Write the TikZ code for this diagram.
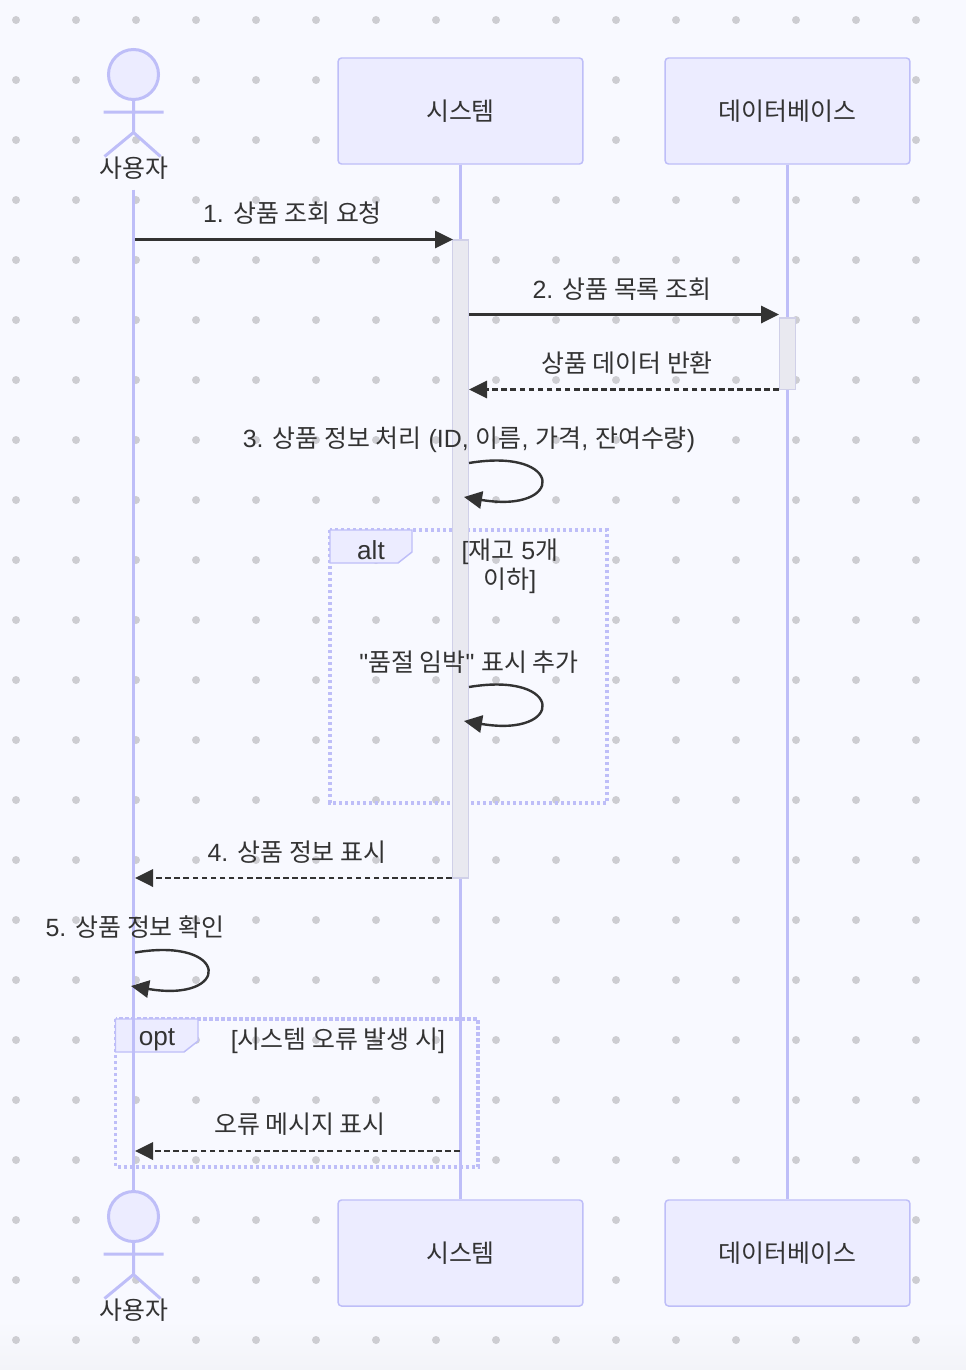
\documentclass[tikz,border=0pt]{standalone}
\usepackage{fontspec}
\setmainfont{Liberation Sans}
\newfontfamily\krfont{Noto Sans CJK KR}
\newfontfamily\rawfont{Liberation Sans}
\newcommand{\kr}[1]{{\krfont #1}}
\usetikzlibrary{arrows.meta}
\definecolor{bgpage}{HTML}{F8F9FF}
\definecolor{bgfoot}{HTML}{F3F4F8}
\definecolor{griddot}{HTML}{CDCDD2}
\definecolor{lavline}{HTML}{BEBEF8}
\definecolor{lavfill}{HTML}{ECECFF}
\definecolor{actfill}{HTML}{E9E9F0}
\definecolor{actline}{HTML}{D0D0E8}
\definecolor{ink}{HTML}{333333}
\begin{document}
\begin{tikzpicture}[x=.75pt,y=-.75pt,
    every node/.style={font=\fontsize{18.7}{22}\selectfont,text=ink,inner sep=0pt},
    lifeline/.style={draw=lavline,line width=2.5pt},
    partbox/.style={draw=lavline,fill=lavfill,line width=1.1pt,rounded corners=2.5pt,
      minimum width=183.5pt,minimum height=79.5pt},
    actorhead/.style={circle,draw=lavline,fill=lavfill,line width=2.25pt,minimum size=37.5pt},
    actorline/.style={draw=lavline,line width=2.25pt},
    activation/.style={draw=actline,fill=actfill,line width=1.1pt},
    frameline/.style={draw=lavline,line width=2.6pt,dash pattern=on 2.4pt off 2.1pt},
    framelabel/.style={draw=lavline,fill=lavfill,line width=1.1pt},
    msgsolid/.style={draw=ink,line width=1.8pt,-{Triangle[length=13.5pt,width=13pt]}},
    msgdash/.style={msgsolid,dash pattern=on 4.2pt off 2.6pt},
    latinlabel/.style={font=\fontsize{19.6}{22}\selectfont}]
  \useasboundingbox (0,0) rectangle (966,1370);
  % page and its dot grid
  \fill[bgpage] (0,0) rectangle (966,1370);
  \shade[top color=bgpage,bottom color=bgfoot] (0,1320) rectangle (966,1370);
  \foreach \i in {0,...,15}
    \foreach \j in {0,...,22}
      \fill[griddot] (16+60*\i,20+60*\j) circle (3pt);

  % frames go under the lifelines
  \draw[frameline] (330,530) rectangle (607,803);
  \draw[framelabel] (330,530)--(412,530)--(412,552)--(398,563)--(330,563)--cycle;
  \draw[frameline] (115.5,1019) rectangle (478,1167);
  \draw[framelabel] (115.5,1019)--(198,1019)--(198,1041)--(184,1052)--(115.5,1052)--cycle;

  % participants
  \node[partbox] (SYSt) at (460.5,111) {\kr{시스템}};
  \node[partbox] (DBt) at (787.5,111) {\kr{데이터베이스}};
  \node[partbox] (SYSb) at (460.5,1253) {\kr{시스템}};
  \node[partbox] (DBb) at (787.5,1253) {\kr{데이터베이스}};
  \coordinate (USRt) at (133.5,189.5);

  % actor, top
  \begin{scope}[shift={(133.5,74.5)}]
    \node[actorhead] (HEADt) at (0,0) {};
    \coordinate (HIPt) at (0,58);
    \draw[actorline] (HEADt.south)--(HIPt) (-30,37.5)--(30,37.5)
      (-29,82)--(HIPt)--(27,82);
    \node (USERt) at (0.5,94) {\kr{사용자}};
  \end{scope}
  % actor, bottom
  \begin{scope}[shift={(133.5,1216.5)}]
    \node[actorhead] (HEADb) at (0,0) {};
    \coordinate (HIPb) at (0,58);
    \draw[actorline] (HEADb.south)--(HIPb) (-30,37.5)--(30,37.5)
      (-29,82)--(HIPb)--(27,82);
    \node (USERb) at (0.5,94) {\kr{사용자}};
  \end{scope}

  % lifelines
  \draw[lifeline] (USRt)--(HEADb.north);
  \draw[lifeline] (SYSt.south)--(SYSb.north);
  \draw[lifeline] (DBt.south)--(DBb.north);

  % activations
  \draw[activation] (452.5,240) rectangle (468.5,878);
  \draw[activation] (779.5,318) rectangle (795.5,389.5);

  % messages
  \coordinate (M1a) at (135,239.5); \coordinate (M1b) at (453,239.5);
  \coordinate (M2a) at (469,314.5); \coordinate (M2b) at (779,314.5);
  \coordinate (R2a) at (779,389.5); \coordinate (R2b) at (469,389.5);
  \coordinate (S3a) at (469,463); \coordinate (S3b) at (464,497);
  \coordinate (SAa) at (469,687); \coordinate (SAb) at (464,721);
  \coordinate (M4a) at (452,878); \coordinate (M4b) at (135,878);
  \coordinate (S5a) at (135,952.5); \coordinate (S5b) at (131,986);
  \coordinate (MEa) at (460,1151); \coordinate (MEb) at (135,1151);

  \draw[msgsolid] (M1a)--(M1b);
  \draw[msgsolid] (M2a)--(M2b);
  \draw[msgdash] (R2a)--(R2b);
  \draw[msgsolid] (S3a) .. controls (565,447) and (565,514) .. (S3b);
  \draw[msgsolid] (SAa) .. controls (565,671) and (565,738) .. (SAb);
  \draw[msgdash] (M4a)--(M4b);
  \draw[msgsolid] (S5a) .. controls (231,936.5) and (231,1003) .. (S5b);
  \draw[msgdash] (MEa)--(MEb);

  % labels
  \node (L1) at (292.5,213) {1. \kr{상품 조회 요청}};
  \node (L2) at (622,289) {2. \kr{상품 목록 조회}};
  \node (LR) at (627,363) {\kr{상품 데이터 반환}};
  \node (L3) at (469,439.5) {3. \kr{상품 정보 처리} (ID, \kr{이름}, \kr{가격}, \kr{잔여수량})};
  \node[latinlabel] (ALT) at (371,550) {alt};
  \node[align=center,font=\fontsize{18.7}{21.75}\selectfont] (ALTc) at (510,566.5) {[\kr{재고} 5\kr{개}\\\kr{이하}]};
  \node (LA) at (469,662) {{\rawfont"}\kr{품절 임박}{\rawfont"} \kr{표시 추가}};
  \node (L4) at (297,852) {4. \kr{상품 정보 표시}};
  \node (L5) at (135,927) {5. \kr{상품 정보 확인}};
  \node[latinlabel] (OPT) at (157,1040) {opt};
  \node (OPTc) at (338,1040.5) {[\kr{시스템 오류 발생 시}]};
  \node (LE) at (300,1124) {\kr{오류 메시지 표시}};
\end{tikzpicture}
\end{document}
